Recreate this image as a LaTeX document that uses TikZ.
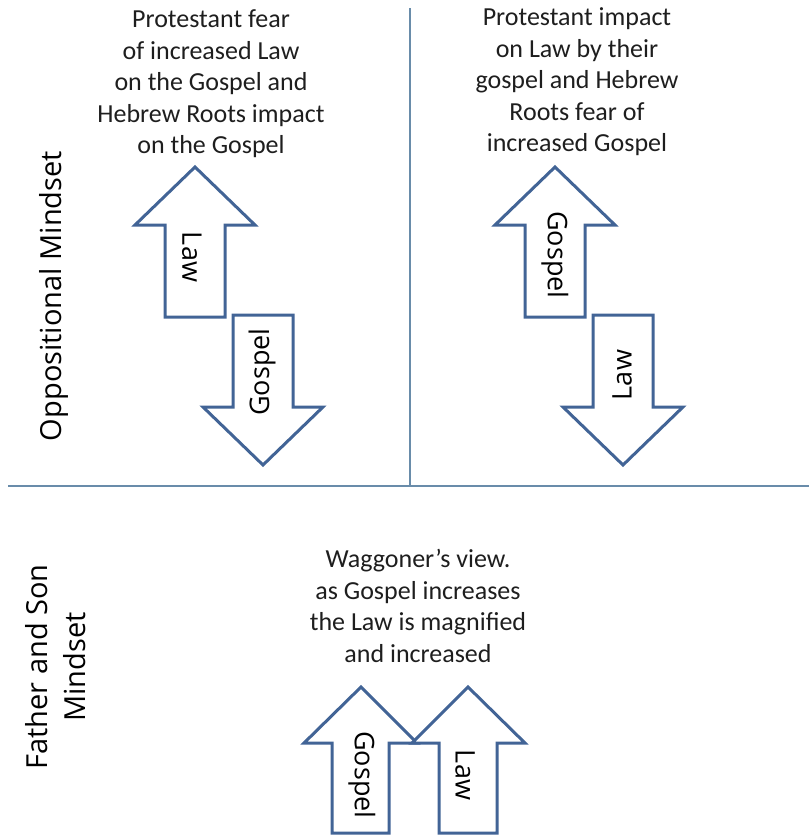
\documentclass[tikz,border=0pt]{standalone}
\usepackage{fontspec}
\setmainfont{Carlito}
\newfontfamily\labelfont{Open Sans}
\definecolor{arrowblue}{RGB}{66,100,150}
\definecolor{gridline}{RGB}{105,140,170}
\definecolor{textgray}{RGB}{30,30,30}
\tikzset{
  blockarrow/.style={draw=arrowblue, line width=3pt, fill=white, line join=miter},
  divider/.style={draw=gridline, line width=1.3pt},
  caption/.style={align=center, inner sep=0pt, text=textgray, font=\fontsize{26}{31.5}\selectfont},
  arrowlabel/.style={inner sep=0pt, text=black, font=\labelfont\fontsize{27}{32}\selectfont},
  sidelabel/.style={inner sep=0pt, align=center, text=black, rotate=90, font=\labelfont\fontsize{29}{38}\selectfont}
}
\begin{document}
\begin{tikzpicture}[x=1pt,y=-1pt]
\useasboundingbox (0,0) rectangle (809,838);
% dividers
\coordinate (vtop) at (410,8);
\coordinate (vbot) at (410,486);
\coordinate (hleft) at (8,486);
\coordinate (hright) at (809,486);
\draw[divider] (vtop) -- (vbot);
\draw[divider] (hleft) -- (hright);

% side labels
\node[sidelabel] (opp) at (54,296) {Oppositional Mindset};
\node[sidelabel] (fas) at (56,667) {Father and Son\\Mindset};

% captions
\node[caption] (capL) at (211,84) {Protestant fear\\of increased Law\\on the Gospel and\\Hebrew Roots impact\\on the Gospel};
\node[caption] (capR) at (577,82) {Protestant impact\\on Law by their\\gospel and Hebrew\\Roots fear of\\increased Gospel};
\node[caption] (capB) at (418,606) {Waggoner’s view.\\as Gospel increases\\the Law is magnified\\and increased};

% top-left: Law up
\draw[blockarrow] (195,167) -- (255,225) -- (225,225) -- (225,317) -- (165,317) -- (165,225) -- (135,225) -- cycle;
\node[arrowlabel, rotate=-90] (lawA) at (192,257) {Law};
% top-left: Gospel down
\draw[blockarrow] (233,315) -- (293,315) -- (293,407) -- (323,407) -- (263,465) -- (203,407) -- (233,407) -- cycle;
\node[arrowlabel, rotate=90] (gosA) at (262,372) {Gospel};

% top-right: Gospel up
\draw[blockarrow] (555,167) -- (615,225) -- (585,225) -- (585,317) -- (525,317) -- (525,225) -- (495,225) -- cycle;
\node[arrowlabel, rotate=-90] (gosB) at (555,255) {Gospel};
% top-right: Law down
\draw[blockarrow] (593,315) -- (653,315) -- (653,407) -- (683,407) -- (623,465) -- (563,407) -- (593,407) -- cycle;
\node[arrowlabel, rotate=90] (lawB) at (622,375) {Law};

% bottom: Gospel up
\draw[blockarrow] (361,687) -- (417,743) -- (389,743) -- (389,833) -- (332,833) -- (332,743) -- (304,743) -- cycle;
\node[arrowlabel, rotate=-90] (gosC) at (362,775) {Gospel};
% bottom: Law up
\draw[blockarrow] (468,687) -- (525,743) -- (497,743) -- (497,833) -- (439,833) -- (439,743) -- (412,743) -- cycle;
\node[arrowlabel, rotate=-90] (lawC) at (465,775) {Law};
\end{tikzpicture}
\end{document}
